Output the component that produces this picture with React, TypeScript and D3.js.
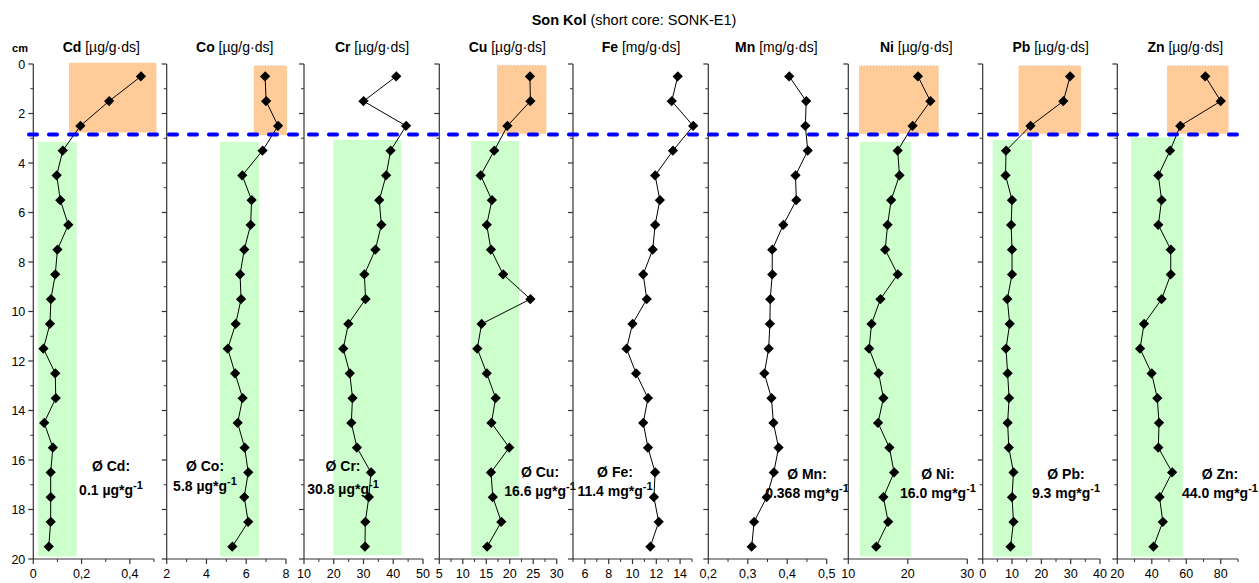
import React from "react";
import * as d3 from "d3";

// ---------- DATA ----------
const depths = [0.5, 1.5, 2.5, 3.5, 4.5, 5.5, 6.5, 7.5, 8.5, 9.5, 10.5, 11.5, 12.5, 13.5, 14.5, 15.5, 16.5, 17.5, 18.5, 19.5];

const elements = ["Cd", "Co", "Cr", "Cu", "Fe", "Mn", "Ni", "Pb", "Zn"];
const unitLabels = ["[µg/g·ds]", "[µg/g·ds]", "[µg/g·ds]", "[µg/g·ds]", "[mg/g·ds]", "[mg/g·ds]", "[µg/g·ds]", "[µg/g·ds]", "[µg/g·ds]"];

const cdValues = [0.446, 0.314, 0.195, 0.122, 0.097, 0.112, 0.145, 0.1, 0.091, 0.073, 0.069, 0.042, 0.091, 0.093, 0.045, 0.081, 0.072, 0.072, 0.072, 0.064];
const coValues = [6.95, 7.0, 7.6, 6.82, 5.8, 6.27, 6.22, 5.9, 5.69, 5.74, 5.47, 5.07, 5.44, 5.82, 5.57, 5.92, 6.1, 5.9, 6.1, 5.3];
const crValues = [41, 30, 44.3, 39.1, 37.6, 35.3, 36.0, 34.0, 30.3, 30.7, 24.9, 23.2, 25.4, 26.3, 25.9, 27.8, 32.5, 31.8, 30.6, 30.5];
const cuValues = [24.3, 24.4, 19.5, 16.7, 13.8, 16.2, 15.1, 16.0, 18.6, 24.4, 14.0, 13.1, 15.1, 17.0, 16.1, 19.9, 16.0, 16.4, 18.2, 15.2];
const feValues = [13.8, 13.3, 15.1, 13.4, 11.9, 12.3, 11.9, 11.7, 10.9, 11.2, 10.0, 9.5, 10.3, 11.3, 10.9, 11.3, 11.9, 11.8, 12.2, 11.5];
const mnValues = [0.405, 0.448, 0.446, 0.452, 0.421, 0.423, 0.39, 0.362, 0.362, 0.357, 0.356, 0.353, 0.342, 0.36, 0.365, 0.378, 0.366, 0.348, 0.316, 0.31];
const niValues = [21.7, 23.8, 20.8, 18.3, 18.6, 17.2, 16.6, 16.2, 18.3, 15.4, 13.9, 13.5, 15.1, 15.9, 15.0, 16.9, 17.7, 15.9, 16.7, 14.7];
const pbValues = [29.8, 27.5, 16.3, 7.95, 7.8, 10.0, 9.7, 10.0, 10.0, 8.4, 9.2, 7.95, 8.5, 9.0, 8.5, 8.9, 10.5, 10.0, 10.5, 9.5];
const znValues = [71, 80, 56.5, 50.6, 43.8, 45.7, 43.8, 51.0, 51.0, 45.7, 35.5, 33.2, 39.9, 43.2, 44.2, 43.8, 51.8, 44.5, 46.4, 41];

const seriesValues = [cdValues, coValues, crValues, cuValues, feValues, mnValues, niValues, pbValues, znValues];

const xDomains: [number, number][] = [[0, 0.5], [2, 8], [10, 50], [5, 30], [5, 15], [0.2, 0.5], [10, 30], [0, 40], [20, 90]];
const majorTicks = [[0, 0.2, 0.4], [2, 4, 6, 8], [10, 20, 30, 40, 50], [5, 10, 15, 20, 25, 30], [6, 8, 10, 12, 14], [0.2, 0.3, 0.4, 0.5], [10, 20, 30], [0, 10, 20, 30, 40], [20, 40, 60, 80]];
const minorTicks = [[0.1, 0.3, 0.5], [3, 5, 7], [15, 25, 35, 45], [7.5, 12.5, 17.5, 22.5, 27.5], [5, 7, 9, 11, 13, 15], [0.25, 0.35, 0.45], [], [5, 15, 25, 35], [30, 50, 70, 90]];
const depthTicks = [0, 2, 4, 6, 8, 10, 12, 14, 16, 18, 20];
const depthMinorTicks = [1, 3, 5, 7, 9, 11, 13, 15, 17, 19];

// upper (orange) ranges: [xFrom, xTo, depthFrom, depthTo]
const upperRanges: ([number, number, number, number] | null)[] = [
  [0.148, 0.51, -0.05, 2.77], [6.38, 8.05, 0.07, 2.87], null, [17.3, 27.8, 0.05, 2.82], null, null,
  [11.8, 25.2, 0.07, 2.82], [12.2, 33.5, 0.07, 2.82], [48.8, 84.5, 0.07, 2.82],
];
// lower (green) ranges
const lowerRanges: ([number, number, number, number] | null)[] = [
  [0.02, 0.18, 3.15, 19.9], [4.68, 6.64, 3.15, 19.9], [19.9, 42.7, 3.07, 19.85], [11.8, 22.0, 3.11, 19.9], null, null,
  [11.9, 20.5, 3.15, 19.9], [3.4, 16.8, 3.07, 19.9], [28, 58, 2.96, 19.9],
];
const boundaryDepth = 2.85;

const meanValues = ["0.1", "5.8", "30.8", "16.6", "11.4", "0.368", "16.0", "9.3", "44.0"];
const meanUnits = ["µg*g", "µg*g", "µg*g", "µg*g", "mg*g", "mg*g", "mg*g", "mg*g", "mg*g"];

// ---------- LAYOUT ----------
const W = 1259;
const H = 583;
const panelRanges: [number, number][] = [[33.3, 154], [166.7, 286], [304, 423], [439.3, 556.7], [573, 692], [708.3, 826.7], [848.3, 967.3], [982.7, 1100], [1117.3, 1238]];
const annX = [111, 205, 343, 540, 615, 807, 938, 1066, 1220];
const annY1 = [466, 466, 466, 472, 472, 474, 474, 474, 474];
const annY2 = [490, 486, 489, 491, 491, 493, 493, 493, 493];
const titleOffset = 68;

const narrow = "'Liberation Sans Narrow', 'Arial Narrow', 'Liberation Sans', Arial, sans-serif";
const sans = "'Liberation Sans', Arial, sans-serif";

const yScale = d3.scaleLinear().domain([0, 20]).range([64, 559]);
const diamond = d3.symbol(d3.symbolSquare, 50)() as string;

function fmt(v: number) {
  return String(v).replace(".", ",");
}

export default function App() {
  const y0 = yScale(0);
  const y20 = yScale(20);
  return (
    <svg width={W} height={H} style={{ position: "absolute", left: 0, top: 0, background: "#fff" }}>
      <rect x={0} y={0} width={W} height={H} fill="#fff" />
      {/* main title */}
      <text x={634} y={25} textAnchor="middle" fontFamily={sans} fontSize={14.5} fill="#000">
        <tspan fontWeight="bold">Son Kol</tspan>
        <tspan> (short core: SONK-E1)</tspan>
      </text>
      <text x={20} y={52} textAnchor="middle" fontFamily={sans} fontSize={11} fontWeight="bold">cm</text>

      {elements.map((el, i) => {
        const xs = d3.scaleLinear().domain(xDomains[i]).range(panelRanges[i]);
        const ax = panelRanges[i][0];
        const up = upperRanges[i];
        const lo = lowerRanges[i];
        const line = d3
          .line<number>()
          .x((v) => xs(v))
          .y((_, k) => yScale(depths[k]));
        return (
          <g key={el}>
            {up && (
              <g>
                <rect x={xs(up[0])} y={yScale(up[2])} width={xs(up[1]) - xs(up[0])} height={yScale(up[3]) - yScale(up[2])} fill="#FFCC99" />
                {up[2] > 0 && (
                  <line x1={xs(up[0]) + 2} x2={xs(up[1]) - 2} y1={yScale(up[2])} y2={yScale(up[2])} stroke="#bbb" strokeWidth={0.8} strokeDasharray="1 2" />
                )}
              </g>
            )}
            {lo && (
              <rect x={xs(lo[0])} y={yScale(lo[2])} width={xs(lo[1]) - xs(lo[0])} height={yScale(lo[3]) - yScale(lo[2])} fill="#CCFFCC" />
            )}
            {/* panel title */}
            <text x={ax + titleOffset} y={52} textAnchor="middle" fontFamily={narrow} fontSize={14} fill="#000">
              <tspan fontWeight="bold">{el}</tspan>
              <tspan> {unitLabels[i]}</tspan>
            </text>
            {/* y axis */}
            <line x1={ax} x2={ax} y1={y0} y2={y20} stroke="#333" strokeWidth={1.2} />
            {depthTicks.map((d) => (
              <line key={"ym" + d} x1={ax - 5} x2={ax} y1={yScale(d)} y2={yScale(d)} stroke="#333" strokeWidth={1.2} />
            ))}
            {depthMinorTicks.map((d) => (
              <line key={"yn" + d} x1={ax - 3} x2={ax} y1={yScale(d)} y2={yScale(d)} stroke="#333" strokeWidth={1} />
            ))}
            {i === 0 &&
              depthTicks.map((d) => (
                <text key={"yl" + d} x={ax - 8} y={yScale(d) + 4.5} textAnchor="end" fontFamily={sans} fontSize={12.5} fill="#000">
                  {d}
                </text>
              ))}
            {/* x axis */}
            <line x1={ax} x2={panelRanges[i][1]} y1={y20} y2={y20} stroke="#333" strokeWidth={1.2} />
            {majorTicks[i].map((t) => (
              <g key={"xm" + t}>
                <line x1={xs(t)} x2={xs(t)} y1={y20} y2={y20 + 5} stroke="#333" strokeWidth={1.2} />
                <text x={xs(t)} y={y20 + 19} textAnchor="middle" fontFamily={sans} fontSize={12.5} fill="#000">
                  {fmt(t)}
                </text>
              </g>
            ))}
            {minorTicks[i].map((t) => (
              <line key={"xn" + t} x1={xs(t)} x2={xs(t)} y1={y20} y2={y20 + 3} stroke="#333" strokeWidth={1} />
            ))}
            {/* profile */}
            <path d={line(seriesValues[i]) || ""} fill="none" stroke="#000" strokeWidth={1} />
            {seriesValues[i].map((v, k) => (
              <path key={"p" + k} d={diamond} transform={`translate(${xs(v)},${yScale(depths[k])}) rotate(45) scale(1,1.05)`} fill="#000" />
            ))}
            {/* mean annotation */}
            <text x={annX[i]} y={annY1[i] + 5} textAnchor="middle" fontFamily={narrow} fontSize={14} fontWeight="bold" fill="#000">
              {"Ø " + el + ":"}
            </text>
            <text x={annX[i]} y={annY2[i] + 5} textAnchor="middle" fontFamily={narrow} fontSize={14} fontWeight="bold" fill="#000">
              {meanValues[i] + " " + meanUnits[i]}
              <tspan dy={-6} fontSize={11}>-1</tspan>
            </text>
          </g>
        );
      })}

      {/* boundary line */}
      <line x1={29} x2={1248} y1={yScale(boundaryDepth)} y2={yScale(boundaryDepth)} stroke="#0000FF" strokeWidth={4} strokeDasharray="8 12" strokeLinecap="round" />
    </svg>
  );
}
